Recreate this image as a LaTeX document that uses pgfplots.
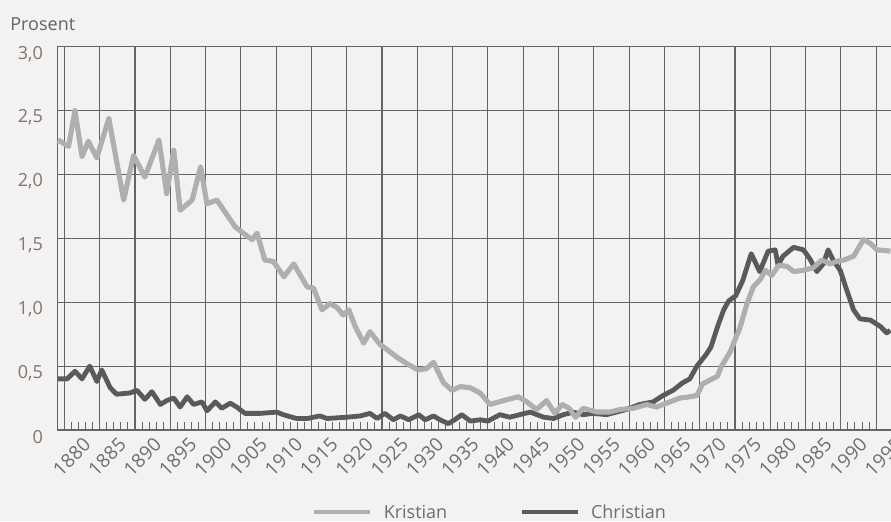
\documentclass[border=0pt]{standalone}
\usepackage{pgfplots}
\pgfplotsset{compat=1.18}
\usepackage{pgfplotstable}
\usepackage{fontspec}
\setmainfont{Open Sans}
\definecolor{bg}{RGB}{242,242,242}
\definecolor{gridc}{RGB}{100,100,100}
\definecolor{kris}{RGB}{175,175,175}
\definecolor{chris}{RGB}{90,90,90}
\definecolor{ylab}{RGB}{140,112,104}
\definecolor{xlab}{RGB}{110,110,110}
\definecolor{tlab}{RGB}{105,98,96}

\pgfplotstableread{
t v
1879.1 2.27
1880.6 2.22
1881.5 2.50
1882.5 2.14
1883.4 2.26
1884.6 2.13
1886.3 2.44
1888.4 1.80
1889.8 2.15
1891.4 1.98
1893.4 2.27
1894.5 1.85
1895.5 2.19
1896.4 1.72
1898.1 1.80
1899.3 2.06
1900.2 1.77
1901.6 1.80
1904.2 1.59
1905.6 1.53
1906.6 1.49
1907.3 1.54
1908.4 1.33
1909.6 1.32
1911.1 1.20
1912.5 1.30
1914.4 1.12
1915.3 1.11
1916.5 0.94
1917.6 0.99
1918.6 0.96
1919.5 0.90
1920.3 0.94
1921.2 0.81
1922.4 0.68
1923.3 0.77
1924.7 0.67
1925.7 0.63
1927.1 0.57
1928.5 0.52
1930.1 0.47
1931.3 0.48
1932.3 0.53
1933.7 0.37
1934.9 0.31
1936.1 0.34
1937.5 0.33
1938.9 0.29
1940.3 0.20
1942.2 0.23
1944.3 0.26
1945.5 0.22
1946.9 0.16
1948.3 0.23
1949.5 0.13
1950.5 0.20
1951.5 0.17
1952.4 0.10
1953.5 0.17
1955.4 0.14
1957.3 0.14
1958.7 0.16
1960.6 0.17
1962.5 0.20
1963.9 0.18
1965.3 0.21
1967.2 0.25
1968.6 0.26
1969.6 0.27
1970.4 0.36
1971.4 0.39
1972.5 0.42
1973.1 0.50
1974.3 0.61
1975.7 0.80
1976.7 0.99
1977.6 1.12
1978.6 1.18
1979.3 1.25
1980.2 1.21
1981.2 1.29
1982.4 1.28
1983.3 1.24
1984.7 1.25
1986.1 1.27
1987.3 1.33
1988.5 1.30
1989.4 1.32
1990.4 1.33
1991.8 1.36
1993.2 1.49
1994.2 1.46
1995.1 1.41
1997.0 1.40
}\kristian

\pgfplotstableread{
t v
1879.1 0.40
1880.4 0.40
1881.5 0.46
1882.5 0.40
1883.6 0.50
1884.6 0.38
1885.3 0.47
1886.5 0.33
1887.4 0.28
1889.3 0.29
1890.3 0.31
1891.4 0.24
1892.4 0.30
1893.6 0.20
1894.5 0.23
1895.5 0.25
1896.4 0.18
1897.4 0.26
1898.3 0.20
1899.5 0.22
1900.2 0.15
1901.4 0.22
1902.3 0.17
1903.5 0.21
1904.4 0.18
1905.6 0.13
1907.7 0.13
1910.1 0.14
1911.0 0.12
1912.9 0.09
1914.4 0.09
1916.2 0.11
1917.2 0.09
1920.0 0.10
1921.9 0.11
1923.3 0.13
1924.3 0.09
1925.4 0.13
1926.6 0.08
1927.6 0.11
1928.8 0.08
1930.2 0.12
1931.1 0.08
1932.3 0.11
1933.2 0.08
1934.4 0.05
1935.3 0.08
1936.3 0.12
1937.5 0.07
1938.9 0.08
1940.0 0.07
1941.7 0.12
1943.1 0.10
1944.5 0.12
1946.0 0.14
1947.9 0.10
1949.3 0.09
1950.7 0.12
1952.1 0.14
1953.5 0.12
1954.9 0.13
1956.8 0.12
1958.2 0.14
1959.6 0.16
1961.5 0.20
1963.4 0.22
1964.8 0.27
1966.2 0.31
1967.6 0.37
1968.6 0.40
1969.6 0.50
1970.9 0.59
1971.6 0.65
1972.6 0.82
1973.4 0.94
1974.1 1.01
1975.1 1.05
1976.1 1.17
1977.3 1.38
1978.5 1.24
1979.7 1.40
1980.7 1.41
1981.1 1.29
1981.8 1.36
1983.3 1.43
1984.7 1.41
1985.6 1.34
1986.6 1.24
1987.5 1.30
1988.2 1.41
1988.9 1.33
1989.9 1.25
1990.8 1.10
1991.8 0.94
1992.7 0.87
1994.2 0.86
1995.6 0.81
1996.5 0.76
1997.0 0.78
}\christian

\begin{document}
\begin{tikzpicture}
\fill[bg] (0,0) rectangle (445.5pt,260.5pt);
\useasboundingbox (0,0) rectangle (445.5pt,260.5pt);
\node[anchor=base west, inner sep=0pt, text=tlab, font=\fontsize{9}{10}\selectfont] at (5pt,245pt) {Prosent};
\begin{axis}[
  at={(28.65pt,45.5pt)}, anchor=south west,
  scale only axis, width=416.85pt, height=191.65pt,
  xmin=1879, xmax=1997.1, ymin=0, ymax=3,
  axis x line*=bottom, axis y line*=left,
  axis line style={gridc, line width=0.7pt},
  xtick={1880,1885,...,1995},
  xticklabels={1880,1885,1890,1895,1900,1905,1910,1915,1920,1925,1930,1935,1940,1945,1950,1955,1960,1965,1970,1975,1980,1985,1990,1995},
  minor x tick num=4,
  tick align=inside,
  major tick length=0pt, minor tick length=4pt,
  minor tick style={gridc, line width=0.5pt},
  ytick={0,0.5,...,3},
  yticklabels={0,{0,5},{1,0},{1,5},{2,0},{2,5},{3,0}},
  ytick style={draw=none},
  xmajorgrids, ymajorgrids,
  major grid style={gridc, line width=0.55pt},
  /pgf/number format/assume math mode=true,
  yticklabel style={font=\fontsize{9}{10}\selectfont, text=ylab, anchor=east, inner sep=0pt, xshift=-7pt, yshift=-3.5pt},
  xticklabel style={font=\fontsize{9.5}{11}\selectfont, text=xlab, xshift=8.9pt, yshift=-3pt, rotate=45, anchor=north east, inner sep=0pt},
  clip=true,
  legend columns=2,
  legend style={at={(0.305,-0.214)}, anchor=west, draw=none, fill=none, inner sep=0pt,
    font=\fontsize{9}{10}\selectfont, text=xlab,
    /tikz/every even column/.append style={column sep=36pt},
    nodes={inner sep=0pt, text depth=0pt}},
  legend image code/.code={\draw[#1] (0pt,0pt) -- (28pt,0pt);},
]
\addplot[kris, line width=2.4pt, line join=round] table[x=t,y=v] {\kristian};
\addlegendentry{\hspace{5.5pt}Kristian}
\addplot[chris, line width=2.4pt, line join=round] table[x=t,y=v] {\christian};
\addlegendentry{\hspace{5.5pt}Christian}
\addplot[kris, line width=2.4pt, line join=round, forget plot] table[x=t,y=v] {\kristian};
\end{axis}
\end{tikzpicture}
\end{document}
